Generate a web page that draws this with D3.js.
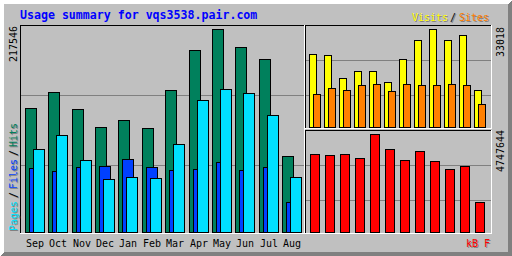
<!DOCTYPE html>
<html>
<head>
<meta charset="utf-8">
<script src="https://cdn.jsdelivr.net/npm/d3@7"></script>
<style>
body { margin: 0; background: #fff; }
svg { display: block; }
text { font-family: "DejaVu Sans Mono", monospace; font-size: 10px; }
</style>
</head>
<body>
<div id="graph"></div>
<script>
// monthly figures
var months = ["Sep", "Oct", "Nov", "Dec", "Jan", "Feb", "Mar", "Apr", "May", "Jun", "Jul", "Aug"];
var hits   = [132560, 149700, 131490, 112200, 119700, 111130, 151850, 194720, 217546, 197940, 185070, 81120];
var files  = [68260, 65050, 69340, 70410, 77910, 69340, 66120, 67190, 74690, 66120, 69340, 31830];
var pages  = [88630, 103630, 76840, 56480, 58620, 57550, 93980, 141130, 152920, 148640, 125060, 58620];
var visits = [24494, 24157, 16408, 18766, 18766, 15060, 22809, 29210, 33018, 29210, 30895, 12365];
var sites  = [11017, 13039, 12365, 14050, 14386, 12028, 14386, 14050, 14050, 14386, 14050, 7648];
var kbytes = [3764300, 3715800, 3764300, 3570400, 4747644, 4006500, 3473500, 3909600, 3425000, 3037500, 3182900, 1438800];

var width = 512;
var height = 256;

var grey = "#c0c0c0", dkgrey = "#808080", white = "#ffffff", black = "#000000";
var hitcolor = "#00805c", filecolor = "#0040ff", pagecolor = "#00e0ff";
var visitcolor = "#ffff00", sitecolor = "#ff8000", kbytecolor = "#ff0000";

var svg = d3.select("#graph")
	.append("svg")
		.attr("width", width)
		.attr("height", height)
		.attr("shape-rendering", "crispEdges");

// one pixel wide/high line as a rect
function line(x, y, w, h, color) {
	svg.append("rect")
		.attr("x", x).attr("y", y)
		.attr("width", w).attr("height", h)
		.attr("fill", color);
}

/* background + 3d border */
line(0, 0, width, height, grey);
for (var i = 0; i < 4; i++) {
	line(i, i, width - 2 * i, 1, white);
	line(i, i, 1, height - 2 * i, white);
	line(i + 1, height - 1 - i, width - 2 * i - 1, 1, dkgrey);
	line(width - 1 - i, i + 1, 1, height - 2 * i - 1, dkgrey);
}

/* scales */
var xMain = d3.scaleLinear().domain([0, 11]).range([25, 282]);
var xTop = d3.scaleLinear().domain([0, 11]).range([309, 474]);
var xBot = d3.scaleLinear().domain([0, 11]).range([310, 475]);

var yMain = d3.scaleLinear().domain([0, d3.max(hits)]).range([232, 29]);
var yTop = d3.scaleLinear().domain([0, d3.max(visits)]).range([127, 29]);
var yBot = d3.scaleLinear().domain([0, d3.max(kbytes)]).range([232, 134]);

// panel fractions, used for the two grid lines in every box
var fMain = d3.scaleLinear().domain([0, 1]).range([235, 25]);
var fTop = d3.scaleLinear().domain([0, 1]).range([130, 25]);
var fBot = d3.scaleLinear().domain([0, 1]).range([235, 130]);
var gridFrac = [1 / 3, 2 / 3];

function grid(f, x1, x2) {
	svg.append("g").selectAll("rect")
		.data(gridFrac)
		.enter().append("rect")
			.attr("x", x1)
			.attr("y", function(d) { return Math.round(f(d)); })
			.attr("width", x2 - x1)
			.attr("height", 1)
			.attr("fill", dkgrey);
}

function frame(x1, y1, x2, y2) {
	line(x1, y1, x2 - x1, 1, black);
	line(x1, y1, 1, y2 - y1, black);
	line(x1, y2, x2 - x1 + 1, 1, white);
	line(x2, y1, 1, y2 - y1 + 1, white);
}

frame(20, 25, 304, 233);
frame(305, 25, 491, 128);
frame(305, 130, 491, 233);

grid(fMain, 21, 304);
grid(fTop, 306, 491);
grid(fBot, 306, 491);

// bars: black outline with the colour inside
function bars(data, x, y, off, w, base, color) {
	var g = svg.append("g");
	g.selectAll("rect.o")
		.data(data)
		.enter().append("rect")
			.attr("x", function(d, i) { return Math.round(x(i)) + off; })
			.attr("y", function(d) { return Math.round(y(d)); })
			.attr("width", w)
			.attr("height", function(d) { return base - Math.round(y(d)) + 1; })
			.attr("fill", black);
	g.selectAll("rect.i")
		.data(data)
		.enter().append("rect")
			.attr("x", function(d, i) { return Math.round(x(i)) + off + 1; })
			.attr("y", function(d) { return Math.round(y(d)) + 1; })
			.attr("width", w - 2)
			.attr("height", function(d) { return base - Math.round(y(d)) - 1; })
			.attr("fill", color);
}

bars(hits, xMain, yMain, 0, 12, 232, hitcolor);
bars(files, xMain, yMain, 4, 12, 232, filecolor);
bars(pages, xMain, yMain, 8, 12, 232, pagecolor);

bars(visits, xTop, yTop, 0, 8, 127, visitcolor);
bars(sites, xTop, yTop, 4, 8, 127, sitecolor);

bars(kbytes, xBot, yBot, 0, 10, 232, kbytecolor);

/* texts */
svg.append("text")
	.attr("x", 20)
	.attr("y", 19)
	.style("font-size", "11.6px")
	.style("font-weight", "bold")
	.attr("fill", "#0000ff")
	.text("Usage summary for vqs3538.pair.com");

svg.append("g").selectAll("text")
	.data(months)
	.enter().append("text")
		.attr("x", function(d, i) { return Math.round(xMain(i)) + 10; })
		.attr("y", 247)
		.attr("text-anchor", "middle")
		.attr("fill", black)
		.text(function(d) { return d; });

// text with the grey drop shadow
function shadowText(x, y, s, color, up) {
	[[1, dkgrey], [0, color]].forEach(function(p) {
		var t = svg.append("text").attr("fill", p[1]).text(s);
		if (up) {
			t.attr("transform", "translate(" + (x + p[0]) + "," + (y + p[0]) + ") rotate(-90)");
		} else {
			t.attr("x", x + p[0]).attr("y", y + p[0]);
		}
	});
}

shadowText(412, 21, "Visits", visitcolor, false);
shadowText(450, 21, "/", black, false);
shadowText(459, 21, "Sites", sitecolor, false);

shadowText(17, 231, "Pages", pagecolor, true);
shadowText(17, 198, "/", black, true);
shadowText(17, 189, "Files", filecolor, true);
shadowText(17, 156, "/", black, true);
shadowText(17, 147, "Hits", hitcolor, true);

shadowText(466, 247, "kB F", kbytecolor, false);

// max values of each box, written upward
function upText(x, y, s) {
	svg.append("text")
		.attr("transform", "translate(" + x + "," + y + ") rotate(-90)")
		.attr("fill", black)
		.text(s);
}
upText(17, 62, d3.max(hits));
upText(504, 57, d3.max(visits));
upText(504, 172, d3.max(kbytes));
</script>
</body>
</html>
